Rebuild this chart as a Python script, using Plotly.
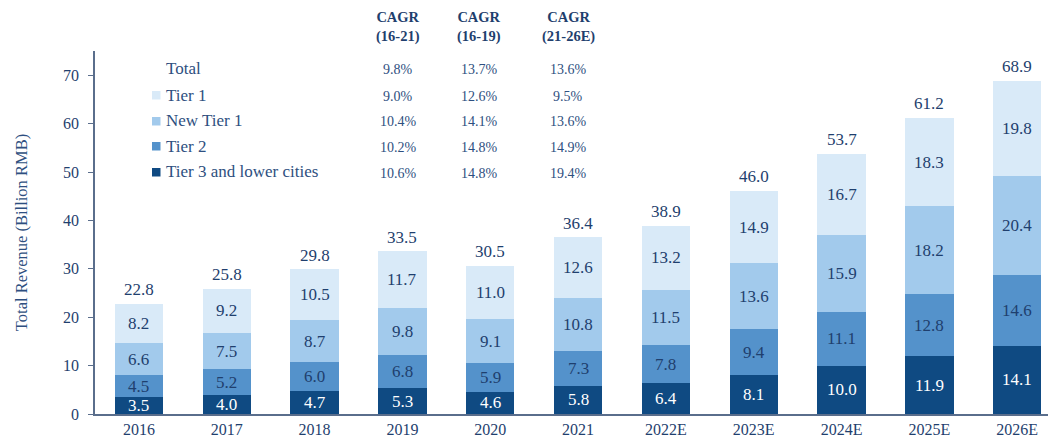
import plotly.graph_objects as go

years = ["2016", "2017", "2018", "2019", "2020", "2021", "2022E", "2023E", "2024E", "2025E", "2026E"]
tier3 = [3.5, 4.0, 4.7, 5.3, 4.6, 5.8, 6.4, 8.1, 10.0, 11.9, 14.1]
tier2 = [4.5, 5.2, 6.0, 6.8, 5.9, 7.3, 7.8, 9.4, 11.1, 12.8, 14.6]
new_tier1 = [6.6, 7.5, 8.7, 9.8, 9.1, 10.8, 11.5, 13.6, 15.9, 18.2, 20.4]
tier1 = [8.2, 9.2, 10.5, 11.7, 11.0, 12.6, 13.2, 14.9, 16.7, 18.3, 19.8]
totals = [22.8, 25.8, 29.8, 33.5, 30.5, 36.4, 38.9, 46.0, 53.7, 61.2, 68.9]

legend_names = ["Total", "Tier 1", "New Tier 1", "Tier 2", "Tier 3 and lower cities"]
cagr_headers = ["CAGR<br>(16-21)", "CAGR<br>(16-19)", "CAGR<br>(21-26E)"]
cagr_16_21 = ["9.8%", "9.0%", "10.4%", "10.2%", "10.6%"]
cagr_16_19 = ["13.7%", "12.6%", "14.1%", "14.8%", "14.8%"]
cagr_21_26 = ["13.6%", "9.5%", "13.6%", "14.9%", "19.4%"]

series = [("Tier 3 and lower cities", tier3, "#0F4A82", "white"),
          ("Tier 2", tier2, "#5492CB", "#1F3F6E"),
          ("New Tier 1", new_tier1, "#A2CAEC", "#1F3F6E"),
          ("Tier 1", tier1, "#D9EAF8", "#1F3F6E")]
colors_by_name = {s[0]: s[2] for s in series}

FONT = "Liberation Serif"
TXT = "#1F3F6E"
TXT2 = "#2E4F80"
W, H = 1052, 439
L, R, T, B = 95, 4, 51, 25
pw, ph = W - L - R, H - T - B


def px2paper(px, py):
    return (px - L) / pw, 1 - (py - T) / ph


fig = go.Figure()
base = [0.0] * len(years)
annotations = []
for name, vals, col, tcol in series:
    fig.add_trace(go.Bar(x=years, y=vals, name=name, marker=dict(color=col, line=dict(width=0)),
                         width=0.55, showlegend=False))
    for i, v in enumerate(vals):
        annotations.append(dict(x=i, y=base[i] + v / 2, text=f"{v:.1f}", showarrow=False,
                                font=dict(family=FONT, size=17, color=tcol), xref="x", yref="y"))
        base[i] += v

for i, t in enumerate(totals):
    annotations.append(dict(x=i, y=t, text=f"{t:.1f}", showarrow=False, yanchor="bottom",
                            yshift=3, font=dict(family=FONT, size=17, color=TXT), xref="x", yref="y"))

# custom legend + CAGR table
row_y = [68, 95, 121, 146, 172]
col_x = [398, 479, 568]
shapes = []
for k, nm in enumerate(legend_names):
    xa, ya = px2paper(164, row_y[k])
    annotations.append(dict(x=xa, y=ya, xref="paper", yref="paper", text=nm, showarrow=False,
                            xanchor="left", yanchor="middle", font=dict(family=FONT, size=17, color=TXT2)))
    if nm in colors_by_name:
        x0, y0 = px2paper(152, row_y[k] + 4.5)
        x1, y1 = px2paper(160.5, row_y[k] - 4)
        shapes.append(dict(type="rect", xref="paper", yref="paper", x0=x0, x1=x1, y0=y0, y1=y1,
                           fillcolor=colors_by_name[nm], line=dict(width=0)))
    for cx, col in zip(col_x, [cagr_16_21, cagr_16_19, cagr_21_26]):
        xa, ya = px2paper(cx, row_y[k] + 1)
        annotations.append(dict(x=xa, y=ya, xref="paper", yref="paper", text=col[k], showarrow=False,
                                xanchor="center", yanchor="middle",
                                font=dict(family=FONT, size=14, color=TXT2)))
for cx, h in zip(col_x, cagr_headers):
    xa, ya = px2paper(cx, 26.5)
    annotations.append(dict(x=xa, y=ya, xref="paper", yref="paper", text=f"<b>{h}</b>",
                            showarrow=False, xanchor="center", yanchor="middle",
                            font=dict(family=FONT, size=14.5, color=TXT)))

fig.update_layout(
    barmode="stack",
    width=W, height=H,
    margin=dict(l=L, r=R, t=T, b=B, autoexpand=False),
    paper_bgcolor="white", plot_bgcolor="white",
    font=dict(family=FONT, color=TXT),
    annotations=annotations, shapes=shapes,
    xaxis=dict(type="category", range=[-0.5, 10.35], showline=True, linecolor="#5A6E8C", linewidth=1.5,
               ticks="", tickfont=dict(family=FONT, size=16, color=TXT), showgrid=False,
               automargin=False),
    yaxis=dict(range=[0, 75], dtick=10, showline=True, linecolor="#5A6E8C", linewidth=1.5,
               ticks="outside", ticklen=5, tickcolor="#5A6E8C", showgrid=False, zeroline=False,
               tickfont=dict(family=FONT, size=16, color=TXT), ticklabelstandoff=6, automargin=False,
               title=dict(text="Total Revenue (Billion RMB)", font=dict(family=FONT, size=16.5, color=TXT2),
                          standoff=31)),
)
fig.write_html("out.html", config={"displayModeBar": False},
               post_script="document.body.style.margin='0px';document.body.style.padding='0px';")
